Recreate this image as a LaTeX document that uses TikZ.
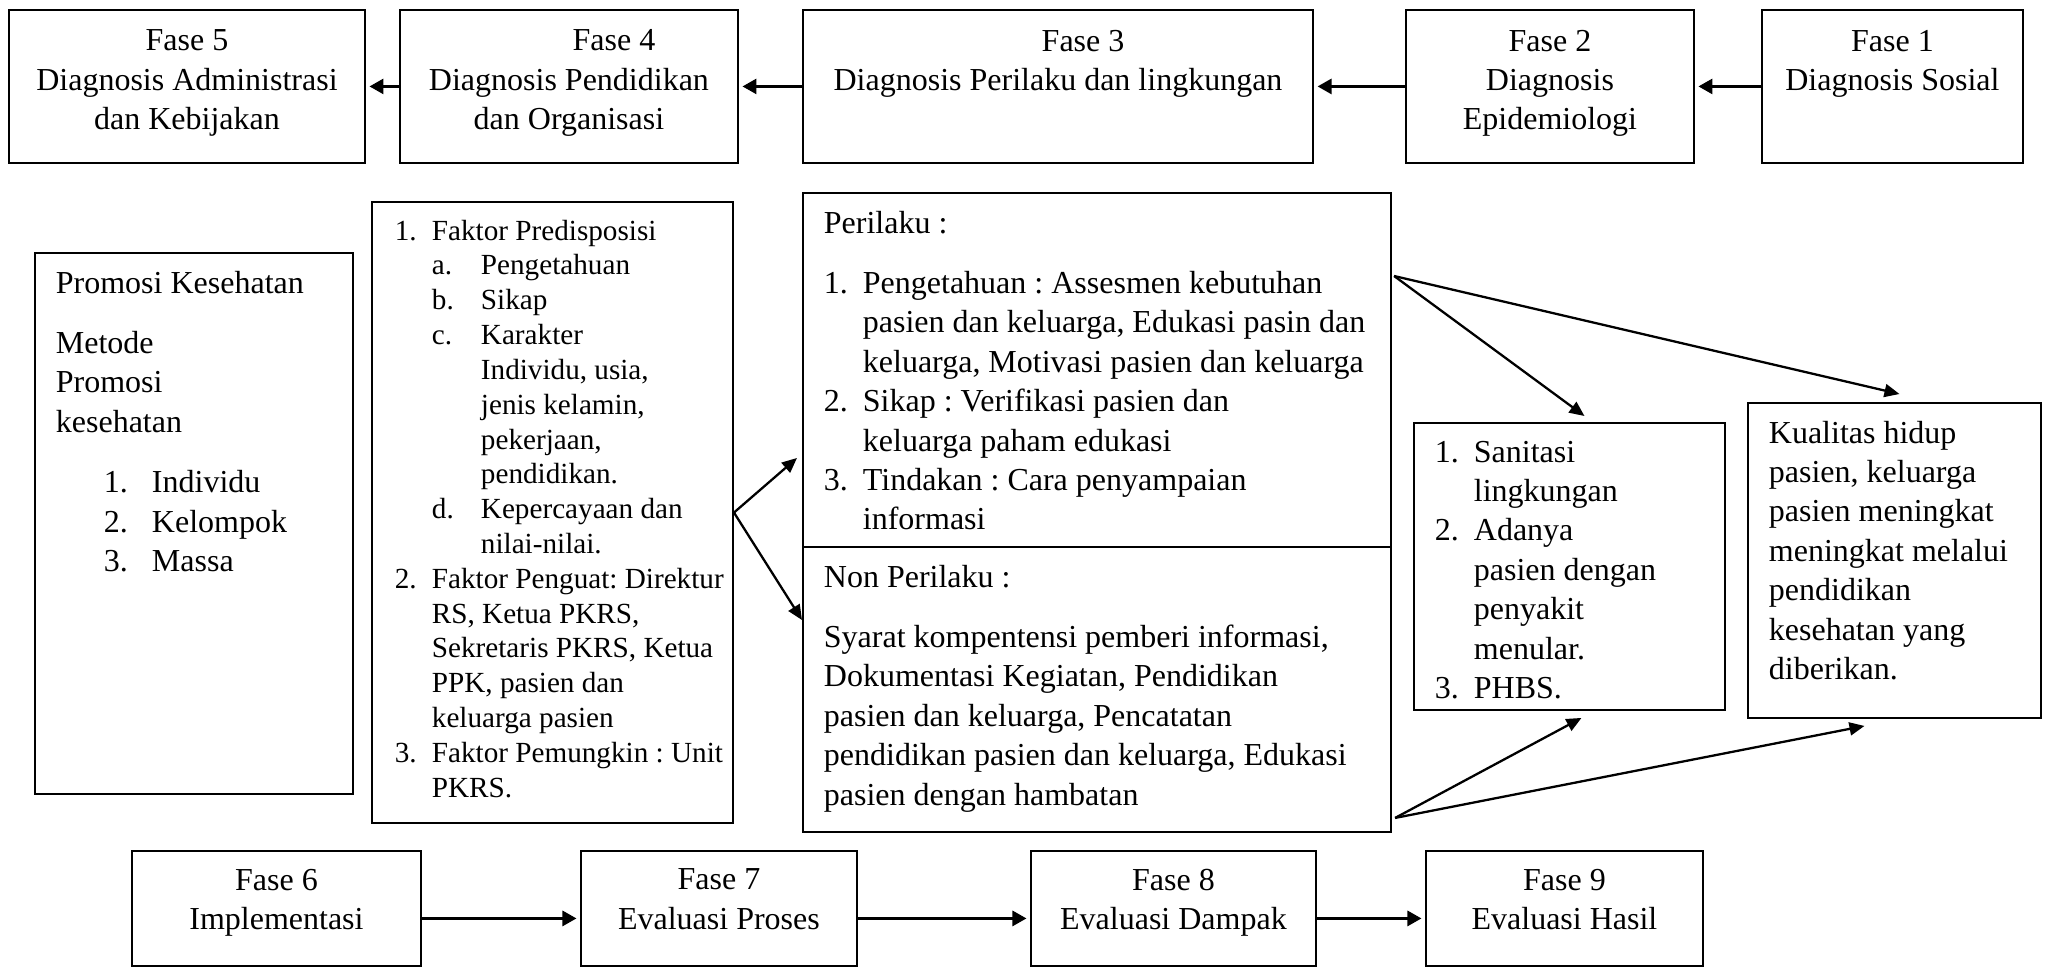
\documentclass[tikz,border=0pt]{standalone}
\usepackage{fontspec}
\setmainfont{Liberation Serif}
\usepackage{enumitem}
\usetikzlibrary{arrows.meta,calc}
\frenchspacing
\tikzset{
  kotak/.style={draw, line width=0.5pt, anchor=north west, inner xsep=0.21cm, inner ysep=0.18cm, font=\fontsize{9.1}{11.2}\selectfont},
  panah/.style={-{Triangle[length=0.15cm,width=0.13cm]}, line width=0.65pt},
  panahfase/.style={-{Triangle[length=0.14cm,width=0.15cm]}, line width=0.8pt, shorten >=1pt}
}
\newcommand{\isi}[3]{\begin{minipage}[t][#2][t]{#1}#3\end{minipage}}
\begin{document}
\begin{tikzpicture}[x=0.01cm,y=-0.01cm]
\useasboundingbox (0,0) rectangle (2045,966);
\node[kotak, inner ysep=0.2cm] (f5) at (8,9) {\isi{3.14cm}{1.13cm}{\centering Fase 5\\Diagnosis Administrasi\\dan Kebijakan}};
\node[kotak, inner ysep=0.2cm] (f4) at (399,9) {\isi{2.96cm}{1.13cm}{\centering \hspace*{0.9cm}Fase 4\\Diagnosis Pendidikan\\dan Organisasi}};
\node[kotak, inner ysep=0.2cm] (f3) at (802,9) {\isi{4.68cm}{1.13cm}{\centering \hspace*{0.5cm}Fase 3\\Diagnosis Perilaku dan lingkungan}};
\node[kotak, inner ysep=0.2cm] (f2) at (1405,9) {\isi{2.46cm}{1.13cm}{\centering Fase 2\\Diagnosis\\Epidemiologi}};
\node[kotak, inner ysep=0.2cm] (f1) at (1761,9) {\isi{2.19cm}{1.13cm}{\centering Fase 1\\Diagnosis Sosial}};

\node[kotak] (promosi) at (34,252) {\isi{2.76cm}{5.05cm}{\raggedright Promosi Kesehatan\par\vspace{6pt}
  Metode\\Promosi\\kesehatan\par\vspace{6pt}
  \begin{enumerate}[label=\arabic*.,leftmargin=0.96cm,labelwidth=0.48cm,labelsep=0pt,align=left,nosep]
    \item Individu
    \item Kelompok
    \item Massa
  \end{enumerate}}};
\node[kotak, inner xsep=0.05cm, font=\fontsize{8.3}{9.9}\selectfont] (faktor) at (371,201) {\isi{3.51cm}{5.85cm}{\raggedright
  \begin{enumerate}[label=\arabic*.,leftmargin=0.55cm,labelwidth=0.37cm,labelsep=0pt,align=left,nosep]
    \item Faktor Predisposisi
    \begin{enumerate}[label=\alph*.,leftmargin=0.49cm,labelwidth=0.49cm,labelsep=0pt,align=left,nosep]
      \item Pengetahuan
      \item Sikap
      \item Karakter\\Individu, usia,\\jenis kelamin,\\pekerjaan,\\pendidikan.
      \item Kepercayaan dan\\nilai-nilai.
    \end{enumerate}
    \item Faktor Penguat: Direktur\\RS, Ketua PKRS,\\Sekretaris PKRS, Ketua\\PPK, pasien dan\\keluarga pasien
    \item Faktor Pemungkin : Unit\\PKRS.
  \end{enumerate}}};
\node[kotak] (perilaku) at (802,192) {\isi{5.46cm}{3.18cm}{\raggedright Perilaku :\par\vspace{6pt}
  \begin{enumerate}[label=\arabic*.,leftmargin=0.39cm,labelwidth=0.39cm,labelsep=0pt,align=left,nosep]
    \item Pengetahuan : Assesmen kebutuhan\\pasien dan keluarga, Edukasi pasin dan\\keluarga, Motivasi pasien dan keluarga
    \item Sikap : Verifikasi pasien dan\\keluarga paham edukasi
    \item Tindakan : Cara penyampaian\\informasi
  \end{enumerate}}};
\node[kotak] (nonperilaku) at (802,546) {\isi{5.46cm}{2.49cm}{\raggedright Non Perilaku :\par\vspace{6pt}
  Syarat kompentensi pemberi informasi,\\Dokumentasi Kegiatan, Pendidikan\\pasien dan keluarga, Pencatatan\\pendidikan pasien dan keluarga, Edukasi\\pasien dengan hambatan}};
\node[kotak] (lingkungan) at (1413,422) {\isi{2.69cm}{2.51cm}{\raggedright
  \begin{enumerate}[label=\arabic*.,leftmargin=0.39cm,labelwidth=0.39cm,labelsep=0pt,align=left,nosep]
    \item Sanitasi\\lingkungan
    \item Adanya\\pasien dengan\\penyakit\\menular.
    \item PHBS.
  \end{enumerate}}};
\node[kotak] (kualitas) at (1747,402) {\isi{2.51cm}{2.79cm}{\raggedright Kualitas hidup\\pasien, keluarga\\pasien meningkat\\meningkat melalui\\pendidikan\\kesehatan yang\\diberikan.}};

\node[kotak] (f6) at (131,850) {\isi{2.47cm}{0.79cm}{\centering Fase 6\\Implementasi}};
\node[kotak] (f7) at (580,850) {\isi{2.34cm}{0.79cm}{\centering Fase 7\\Evaluasi Proses}};
\node[kotak] (f8) at (1030,850) {\isi{2.43cm}{0.79cm}{\centering Fase 8\\Evaluasi Dampak}};
\node[kotak] (f9) at (1425,850) {\isi{2.35cm}{0.79cm}{\centering Fase 9\\Evaluasi Hasil}};

\draw[panahfase] (f1) -- (f2);
\draw[panahfase] (f2) -- (f3);
\draw[panahfase] (f3) -- (f4);
\draw[panahfase] (f4) -- (f5);
\draw[panahfase] ([yshift=-0.1cm]f6.east) -- ([yshift=-0.1cm]f7.west);
\draw[panahfase] ([yshift=-0.1cm]f7.east) -- ([yshift=-0.1cm]f8.west);
\draw[panahfase] ([yshift=-0.1cm]f8.east) -- ([yshift=-0.1cm]f9.west);

\draw[panah] (faktor.east) -- ($(perilaku.south west)+(-5,-90)$);
\draw[panah] (faktor.east) -- ($(nonperilaku.north west)+(0,74)$);
\coordinate (pa) at ($(perilaku.north east)+(2,84)$);
\coordinate (pb) at ($(nonperilaku.south east)+(3,-15)$);
\draw[panah] (pa) -- ($(lingkungan.north)+(15,-6)$);
\draw[panah] (pa) -- ($(kualitas.north)+(5,-8)$);
\draw[panah] (pb) -- ($(lingkungan.south)+(12,7)$);
\draw[panah] (pb) -- ($(kualitas.south)+(-30,7)$);
\end{tikzpicture}
\end{document}
